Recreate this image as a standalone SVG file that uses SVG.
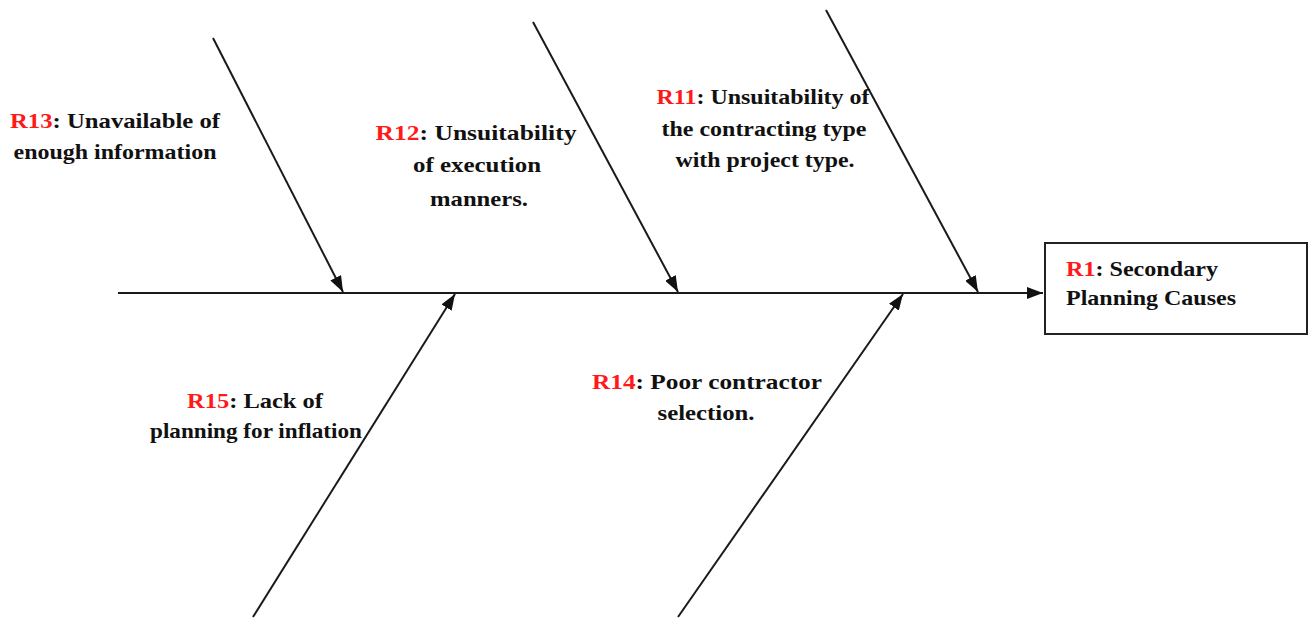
<svg xmlns="http://www.w3.org/2000/svg" width="1309" height="620" viewBox="0 0 1309 620">
<style>
.t{font-family:"Liberation Serif","Times New Roman",serif;font-weight:bold;font-size:22px;fill:#111}
.r{fill:#ff1a1a}
.c{text-anchor:middle}
.ln{stroke:#1a1a1a;stroke-width:2;fill:none}
</style>
<defs>
<marker id="ah" viewBox="0 0 16 12" refX="16" refY="6" markerWidth="16" markerHeight="12" markerUnits="userSpaceOnUse" orient="auto">
<path d="M0,0 L16,6 L0,12 Z" fill="#111"/>
</marker>
</defs>
<rect width="1309" height="620" fill="#fff"/>
<g id="connectors">
<line class="ln" x1="118" y1="293" x2="1043" y2="293" marker-end="url(#ah)"/>
<line class="ln" x1="213" y1="38" x2="343" y2="292" marker-end="url(#ah)"/>
<line class="ln" x1="533" y1="22" x2="678" y2="292" marker-end="url(#ah)"/>
<line class="ln" x1="826" y1="10" x2="978" y2="292" marker-end="url(#ah)"/>
<line class="ln" x1="253" y1="617" x2="455" y2="294" marker-end="url(#ah)"/>
<line class="ln" x1="678" y1="617" x2="903" y2="294" marker-end="url(#ah)"/>
</g>
<g id="R1">
<rect x="1045" y="243" width="262" height="91" fill="#fff" stroke="#222" stroke-width="2"/>
<text class="t" x="1066" y="276" textLength="152" lengthAdjust="spacingAndGlyphs"><tspan class="r">R1</tspan>: Secondary</text>
<text class="t" x="1066" y="305" textLength="170" lengthAdjust="spacingAndGlyphs">Planning Causes</text>
</g>
<g id="R13">
<text class="t c" x="115" y="128" textLength="210" lengthAdjust="spacingAndGlyphs"><tspan class="r">R13</tspan>: Unavailable of</text>
<text class="t c" x="115" y="159" textLength="203" lengthAdjust="spacingAndGlyphs">enough information</text>
</g>
<g id="R12">
<text class="t c" x="476" y="140" textLength="201" lengthAdjust="spacingAndGlyphs"><tspan class="r">R12</tspan>: Unsuitability</text>
<text class="t c" x="477" y="172" textLength="128" lengthAdjust="spacingAndGlyphs">of execution</text>
<text class="t c" x="479" y="206" textLength="98" lengthAdjust="spacingAndGlyphs">manners.</text>
</g>
<g id="R11">
<text class="t c" x="763" y="104" textLength="213" lengthAdjust="spacingAndGlyphs"><tspan class="r">R11</tspan>: Unsuitability of</text>
<text class="t c" x="764" y="136" textLength="205" lengthAdjust="spacingAndGlyphs">the contracting type</text>
<text class="t c" x="765" y="167" textLength="179" lengthAdjust="spacingAndGlyphs">with project type.</text>
</g>
<g id="R15">
<text class="t c" x="255" y="408" textLength="136" lengthAdjust="spacingAndGlyphs"><tspan class="r">R15</tspan>: Lack of</text>
<text class="t c" x="256" y="438" textLength="212" lengthAdjust="spacingAndGlyphs">planning for inflation</text>
</g>
<g id="R14">
<text class="t c" x="707" y="389" textLength="230" lengthAdjust="spacingAndGlyphs"><tspan class="r">R14</tspan>: Poor contractor</text>
<text class="t c" x="706" y="420" textLength="97" lengthAdjust="spacingAndGlyphs">selection.</text>
</g>
</svg>
